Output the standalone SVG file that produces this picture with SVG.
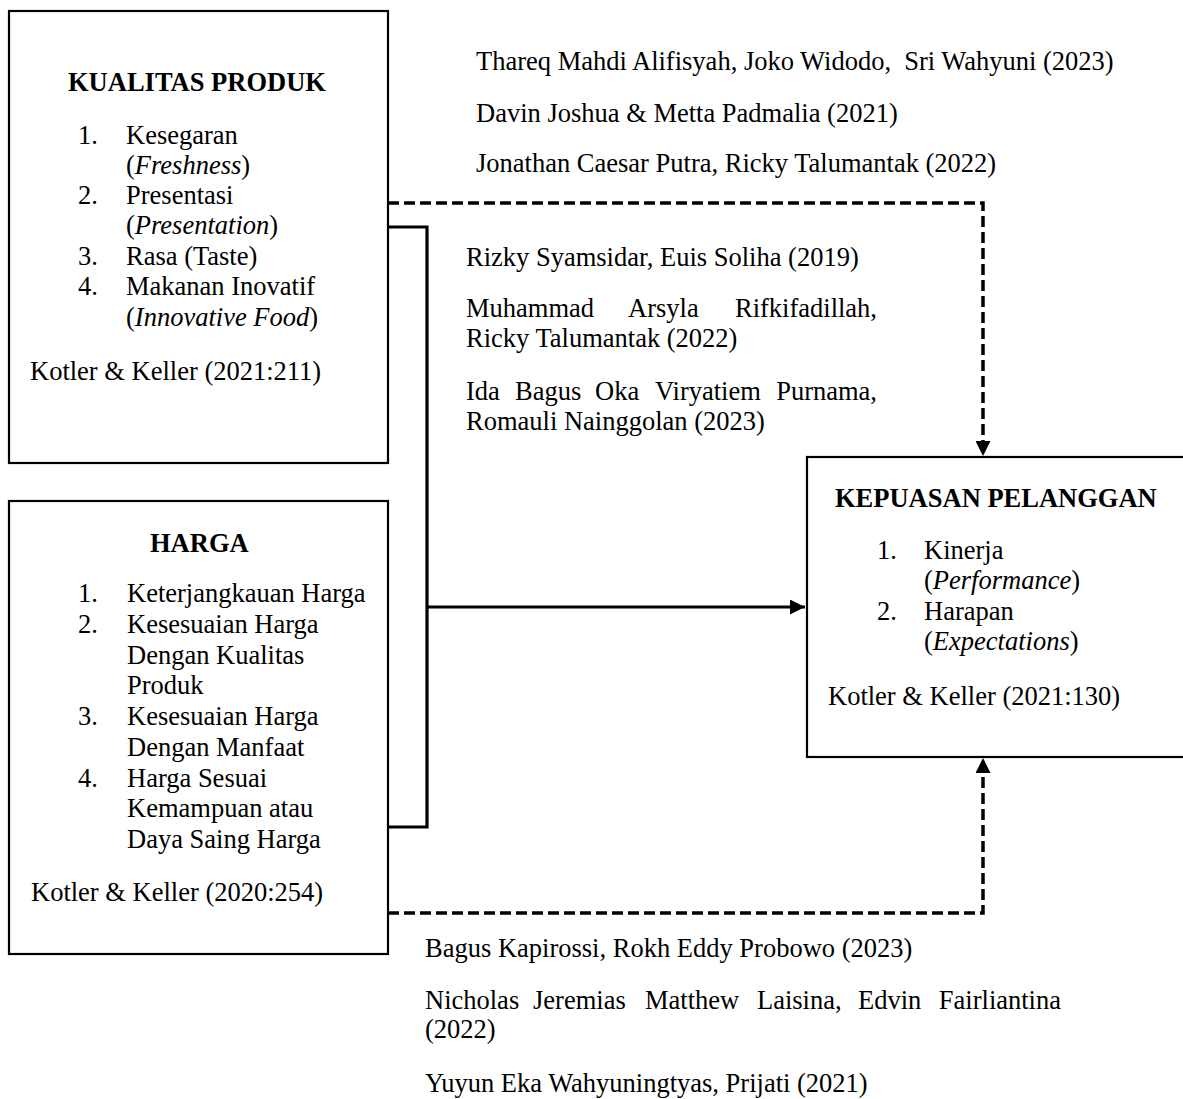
<svg xmlns="http://www.w3.org/2000/svg" width="1183" height="1099" viewBox="0 0 1183 1099">
<style>
text{font-family:"Liberation Serif","Times New Roman",serif;font-size:26.5px;fill:#000;white-space:pre}
.b{font-weight:bold}
.i{font-style:italic}
.box{fill:#fff;stroke:#000;stroke-width:2.2}
.c{fill:none;stroke:#000;stroke-width:3.2}
.d{fill:none;stroke:#000;stroke-width:3.5;stroke-dasharray:11 5}
.e{text-anchor:end}
</style>
<defs>
<marker id="ah" markerUnits="userSpaceOnUse" viewBox="0 0 15 15" markerWidth="15" markerHeight="15" refX="15" refY="7.5" orient="auto">
<path d="M0,0 L15,7.5 L0,15 Z" fill="#000"/>
</marker>
</defs>
<rect width="1183" height="1099" fill="#fff"/>

<g id="connectors">
<path class="c" d="M388,227 H427 V827 H388"/>
<path class="c" d="M427,607 H805" marker-end="url(#ah)"/>
<path class="d" d="M388,203 H983 V456" marker-end="url(#ah)"/>
<path class="d" d="M388,913 H983 V758" marker-end="url(#ah)"/>
</g>

<g id="kualitas-produk">
<rect class="box" x="9" y="11" width="379" height="452"/>
<text class="b" x="68" y="91">KUALITAS PRODUK</text>
<text x="78" y="144">1.</text><text x="126" y="144">Kesegaran</text>
<text x="126" y="174">(<tspan class="i">Freshness</tspan>)</text>
<text x="78" y="204">2.</text><text x="126" y="204">Presentasi</text>
<text x="126" y="234">(<tspan class="i">Presentation</tspan>)</text>
<text x="78" y="265">3.</text><text x="126" y="265">Rasa (Taste)</text>
<text x="78" y="295">4.</text><text x="126" y="295">Makanan Inovatif</text>
<text x="126" y="326">(<tspan class="i">Innovative Food</tspan>)</text>
<text x="30" y="380">Kotler &amp; Keller (2021:211)</text>
</g>

<g id="harga">
<rect class="box" x="9" y="501" width="379" height="453"/>
<text class="b" x="150" y="552">HARGA</text>
<text x="78" y="602">1.</text><text x="127" y="602">Keterjangkauan Harga</text>
<text x="78" y="633">2.</text><text x="127" y="633">Kesesuaian Harga</text>
<text x="127" y="664">Dengan Kualitas</text>
<text x="127" y="694">Produk</text>
<text x="78" y="725">3.</text><text x="127" y="725">Kesesuaian Harga</text>
<text x="127" y="756">Dengan Manfaat</text>
<text x="78" y="787">4.</text><text x="127" y="787">Harga Sesuai</text>
<text x="127" y="817">Kemampuan atau</text>
<text x="127" y="848">Daya Saing Harga</text>
<text x="31" y="901">Kotler &amp; Keller (2020:254)</text>
</g>

<g id="kepuasan-pelanggan">
<rect class="box" x="807" y="457" width="400" height="300"/>
<text class="b" x="835" y="507">KEPUASAN PELANGGAN</text>
<text x="877" y="559">1.</text><text x="924" y="559">Kinerja</text>
<text x="924" y="589">(<tspan class="i">Performance</tspan>)</text>
<text x="877" y="620">2.</text><text x="924" y="620">Harapan</text>
<text x="924" y="650">(<tspan class="i">Expectations</tspan>)</text>
<text x="828" y="705">Kotler &amp; Keller (2021:130)</text>
</g>

<g id="refs-top">
<text x="476" y="70">Thareq Mahdi Alifisyah, Joko Widodo,  Sri Wahyuni (2023)</text>
<text x="476" y="122">Davin Joshua &amp; Metta Padmalia (2021)</text>
<text x="476" y="172">Jonathan Caesar Putra, Ricky Talumantak (2022)</text>
</g>

<g id="refs-middle">
<text x="466" y="266">Rizky Syamsidar, Euis Soliha (2019)</text>
<text x="466" y="317">Muhammad</text><text x="628" y="317">Arsyla</text><text class="e" x="877" y="317">Rifkifadillah,</text>
<text x="466" y="347">Ricky Talumantak (2022)</text>
<text x="466" y="400">Ida</text><text x="515" y="400">Bagus</text><text x="595" y="400">Oka</text><text x="655" y="400">Viryatiem</text><text class="e" x="877" y="400">Purnama,</text>
<text x="466" y="430">Romauli Nainggolan (2023)</text>
</g>

<g id="refs-bottom">
<text x="425" y="957">Bagus Kapirossi, Rokh Eddy Probowo (2023)</text>
<text x="425" y="1009">Nicholas</text><text x="533" y="1009">Jeremias</text><text x="645" y="1009">Matthew</text><text x="757" y="1009">Laisina,</text><text x="858" y="1009">Edvin</text><text class="e" x="1061" y="1009">Fairliantina</text>
<text x="425" y="1038">(2022)</text>
<text x="425" y="1092">Yuyun Eka Wahyuningtyas, Prijati (2021)</text>
</g>
</svg>
